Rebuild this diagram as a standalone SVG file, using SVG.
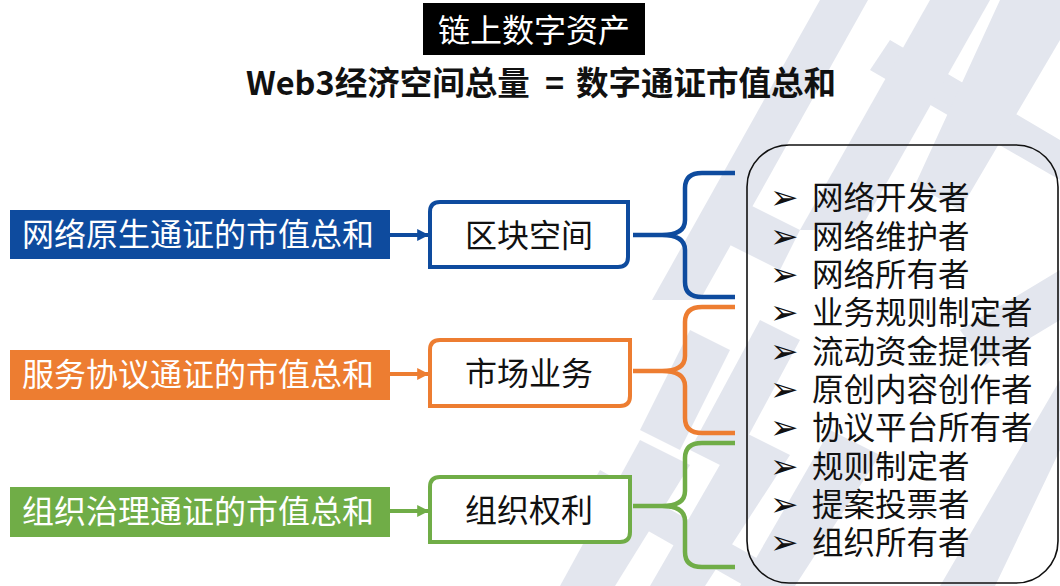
<svg xmlns="http://www.w3.org/2000/svg" width="1060" height="586" viewBox="0 0 1060 586">
  <defs>
    <style>
      .cjk { font-family: "Noto Sans CJK SC", "Noto Sans", sans-serif; }
      .wm { fill: #e3e6ee; }
      .lbl { font-size: 32px; fill: #ffffff; }
      .node-t { font-size: 32px; fill: #111111; text-anchor: middle; }
      .item { font-size: 31.5px; fill: #111111; }
      .bul { font-family: "DejaVu Sans", sans-serif; font-size: 34px; fill: #111111; }
      .nb { fill: #ffffff; stroke-width: 4; }
      .br { fill: none; stroke-width: 4.5; stroke-linecap: butt; }
      .ar { stroke-width: 4; fill: none; }
    </style>
    <marker id="ab" viewBox="0 0 10 10" refX="9" refY="5" markerWidth="3" markerHeight="3" orient="auto" markerUnits="strokeWidth"><path d="M0,0 L10,5 L0,10 Z" fill="#0e4b9e"/></marker>
    <marker id="ao" viewBox="0 0 10 10" refX="9" refY="5" markerWidth="3" markerHeight="3" orient="auto" markerUnits="strokeWidth"><path d="M0,0 L10,5 L0,10 Z" fill="#ed7d31"/></marker>
    <marker id="ag" viewBox="0 0 10 10" refX="9" refY="5" markerWidth="3" markerHeight="3" orient="auto" markerUnits="strokeWidth"><path d="M0,0 L10,5 L0,10 Z" fill="#70ad47"/></marker>
  </defs>
  <rect width="1060" height="586" fill="#ffffff"/>

  <g id="watermark">
    <polygon class="wm" points="820,0 868,0 700,300 652,300"/>
    <polygon class="wm" points="890,40 1060,140 1060,180 870,70"/>
    <polygon class="wm" points="930,0 990,0 860,230 800,230"/>
    <polygon class="wm" points="1000,0 1060,0 1060,40 960,210 915,185"/>
    <polygon class="wm" points="640,430 690,330 730,350 680,450"/>
    <polygon class="wm" points="690,450 760,320 800,340 730,470"/>
    <polygon class="wm" points="560,586 640,440 690,465 615,586"/>
    <polygon class="wm" points="650,586 740,430 790,455 705,586"/>
    <polygon class="wm" points="740,586 830,430 880,455 795,586"/>
    <polygon class="wm" points="600,470 760,560 745,586 585,495"/>
    <polygon class="wm" points="740,200 800,230 780,270 720,240"/>
    <polygon class="wm" points="960,330 1060,270 1060,320 985,365"/>
    <polygon class="wm" points="940,586 1060,380 1060,450 995,586"/>
  </g>

  <g id="title">
    <rect x="423" y="3" width="222" height="52" fill="#000000"/>
    <text x="534" y="42" class="cjk" font-size="32" fill="#ffffff" text-anchor="middle">链上数字资产</text>
  </g>
  <g id="subtitle">
    <text y="95" class="cjk" font-size="32.5" font-weight="bold" fill="#111111"><tspan x="246">Web3经济空间总量</tspan><tspan x="545">=</tspan><tspan x="576">数字通证市值总和</tspan></text>
  </g>

  <g id="connectors">
    <line class="ar" x1="390" y1="235" x2="428" y2="235" stroke="#0e4b9e" marker-end="url(#ab)"/>
    <line class="ar" x1="390" y1="374" x2="428" y2="374" stroke="#ed7d31" marker-end="url(#ao)"/>
    <line class="ar" x1="390" y1="511" x2="428" y2="511" stroke="#70ad47" marker-end="url(#ag)"/>
    <path class="br" stroke="#0e4b9e" d="M633,235 L662,235 Q685,235 685,220 L685,188 Q685,173 702,173 L735,173 M662,235 Q685,235 685,250 L685,282 Q685,297 702,297 L735,297"/>
    <path class="br" stroke="#ed7d31" d="M633,371 L662,371 Q685,371 685,356 L685,322 Q685,307 702,307 L735,307 M662,371 Q685,371 685,386 L685,418 Q685,433 702,433 L735,433"/>
    <path class="br" stroke="#70ad47" d="M633,506 L662,506 Q685,506 685,491 L685,458 Q685,443 702,443 L735,443 M662,506 Q685,506 685,521 L685,552 Q685,567 702,567 L735,567"/>
  </g>

  <g id="src-network">
    <rect x="10" y="210" width="380" height="49" fill="#0e4b9e"/>
    <text x="22" y="245.5" class="cjk lbl">网络原生通证的市值总和</text>
  </g>
  <g id="src-service">
    <rect x="10" y="350" width="380" height="50" fill="#ed7d31"/>
    <text x="22" y="386" class="cjk lbl">服务协议通证的市值总和</text>
  </g>
  <g id="src-org">
    <rect x="10" y="487" width="380" height="50" fill="#70ad47"/>
    <text x="22" y="523" class="cjk lbl">组织治理通证的市值总和</text>
  </g>

  <g id="node-block">
    <path class="nb" stroke="#0e4b9e" d="M440,202 H628 V257 Q628,267 618,267 H430 V212 Q430,202 440,202 Z"/>
    <text x="529" y="246.5" class="cjk node-t">区块空间</text>
  </g>
  <g id="node-market">
    <path class="nb" stroke="#ed7d31" d="M440,340 H630 V396 Q630,406 620,406 H430 V350 Q430,340 440,340 Z"/>
    <text x="529" y="384.5" class="cjk node-t">市场业务</text>
  </g>
  <g id="node-org">
    <path class="nb" stroke="#70ad47" d="M440,477 H630 V532 Q630,542 620,542 H430 V487 Q430,477 440,477 Z"/>
    <text x="529" y="521.5" class="cjk node-t">组织权利</text>
  </g>

  <g id="roles">
    <rect x="747" y="145" width="311" height="438" rx="42" ry="42" fill="none" stroke="#111111" stroke-width="1.6"/>
    <g class="bul">
      <text x="770" y="209">➢</text>
      <text x="770" y="247.5">➢</text>
      <text x="770" y="286">➢</text>
      <text x="770" y="324">➢</text>
      <text x="770" y="362.5">➢</text>
      <text x="770" y="401">➢</text>
      <text x="770" y="439">➢</text>
      <text x="770" y="477.5">➢</text>
      <text x="770" y="516">➢</text>
      <text x="770" y="554">➢</text>
    </g>
    <g class="cjk item">
      <text x="812" y="209">网络开发者</text>
      <text x="812" y="247.5">网络维护者</text>
      <text x="812" y="286">网络所有者</text>
      <text x="812" y="324">业务规则制定者</text>
      <text x="812" y="362.5">流动资金提供者</text>
      <text x="812" y="401">原创内容创作者</text>
      <text x="812" y="439">协议平台所有者</text>
      <text x="812" y="477.5">规则制定者</text>
      <text x="812" y="516">提案投票者</text>
      <text x="812" y="554">组织所有者</text>
    </g>
  </g>
</svg>
